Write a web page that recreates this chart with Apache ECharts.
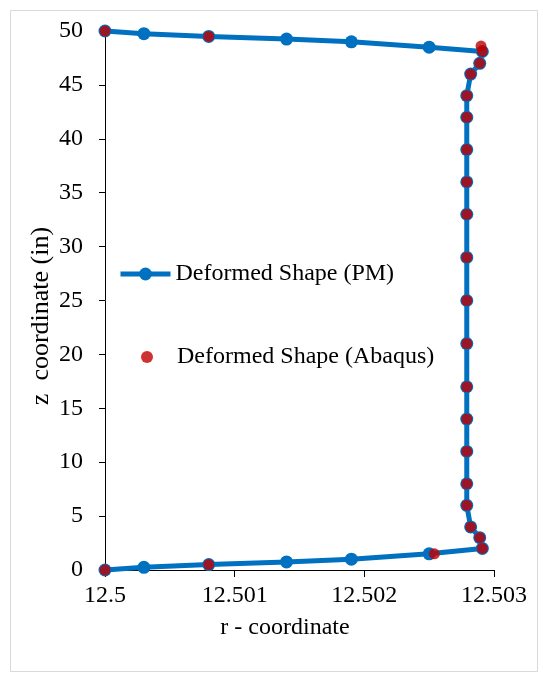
<!DOCTYPE html>
<html>
<head>
<meta charset="utf-8">
<script src="https://cdn.jsdelivr.net/npm/echarts@6/dist/echarts.min.js"></script>
<style>
html,body{margin:0;padding:0;background:#fff;}
#chart{width:543px;height:677px;}
</style>
</head>
<body>
<div id="chart"></div>
<script>
// PM (line) data
var pmR = [12.5, 12.5003, 12.5008, 12.5014, 12.5019, 12.5025, 12.50291, 12.50289, 12.50282, 12.50279, 12.50279, 12.50279, 12.50279, 12.50279, 12.50279, 12.50279, 12.50279, 12.50279, 12.50279, 12.50279, 12.50279, 12.50279, 12.50282, 12.50289, 12.50291, 12.5025, 12.5019, 12.5014, 12.5008, 12.5003, 12.5];
var pmZ = [0, 0.25, 0.5, 0.75, 1.0, 1.5, 2.0, 3, 4, 6, 8, 11, 14, 17, 21, 25, 29, 33, 36, 39, 42, 44, 46, 47, 48.1, 48.5, 49.0, 49.25, 49.5, 49.75, 50];
// Abaqus (scatter) data
var abR = [12.5, 12.5008, 12.50254, 12.50291, 12.50289, 12.50282, 12.50279, 12.50279, 12.50279, 12.50279, 12.50279, 12.50279, 12.50279, 12.50279, 12.50279, 12.50279, 12.50279, 12.50279, 12.50279, 12.50282, 12.50289, 12.50291, 12.5029, 12.5008, 12.5];
var abZ = [0, 0.5, 1.5, 2, 3, 4, 6, 8, 11, 14, 17, 21, 25, 29, 33, 36, 39, 42, 44, 46, 47, 48.1, 48.6, 49.5, 50];
// axis settings
var xMin = 12.5, xMax = 12.503, xStep = 0.001;
var yMin = 0, yMax = 50, yStep = 5;
var seriesNames = ['Deformed Shape (PM)', 'Deformed Shape (Abaqus)'];
var xTitle = 'r - coordinate';
var yTitle = 'z  coordinate (in)';

function zip(a, b) { return a.map(function (v, i) { return [v, b[i]]; }); }

var FONT = 'Liberation Serif';
var chart = echarts.init(document.getElementById('chart'), null, { renderer: 'canvas' });
chart.setOption({
  animation: false,
  backgroundColor: '#ffffff',
  textStyle: { fontFamily: FONT, color: '#000' },
  grid: { left: 105, right: 49, top: 31, bottom: 107, containLabel: false },
  xAxis: {
    type: 'value', min: xMin, max: xMax, interval: xStep,
    axisLine: { show: true, onZero: false, lineStyle: { color: '#000', width: 1 } },
    axisTick: { show: true, inside: false, length: 7, lineStyle: { color: '#000' } },
    splitLine: { show: false },
    axisLabel: { fontFamily: FONT, fontSize: 24, color: '#000', margin: 14 }
  },
  yAxis: {
    type: 'value', min: yMin, max: yMax, interval: yStep,
    axisLine: { show: true, onZero: false, lineStyle: { color: '#000', width: 1 } },
    axisTick: { show: true, inside: false, length: 6, lineStyle: { color: '#000' } },
    splitLine: { show: false },
    axisLabel: { fontFamily: FONT, fontSize: 24, color: '#000', margin: 22 }
  },
  legend: [
    {
      orient: 'vertical', left: 118, top: 262, padding: 0,
      itemWidth: 50, itemHeight: 16,
      lineStyle: { width: 5 },
      textStyle: { fontFamily: FONT, fontSize: 24, color: '#000' },
      data: [{ name: seriesNames[0] }]
    },
    {
      orient: 'vertical', left: 141, top: 345, padding: 0,
      itemWidth: 50, itemHeight: 12,
      textStyle: { fontFamily: FONT, fontSize: 24, color: '#000' },
      data: [{ name: seriesNames[1], icon: 'circle' }]
    }
  ],
  series: [
    {
      name: seriesNames[0], type: 'line', data: zip(pmR, pmZ),
      symbol: 'circle', symbolSize: 13, showSymbol: true,
      lineStyle: { color: '#0070C0', width: 5 },
      itemStyle: { color: '#0070C0' },
      z: 2
    },
    {
      name: seriesNames[1], type: 'scatter', data: zip(abR, abZ),
      symbol: 'circle', symbolSize: 11,
      itemStyle: { color: '#C00000' },
      z: 3
    }
  ],
  graphic: [
    { type: 'rect', left: 8, top: 8, shape: { width: 527, height: 661 }, style: { fill: 'none', stroke: '#d9d9d9', lineWidth: 1 }, silent: true, z: -1 },
    { type: 'text', x: 285, y: 628, style: { text: xTitle, font: '24px "Liberation Serif"', fill: '#000', align: 'center', verticalAlign: 'middle' } },
    { type: 'text', x: 41, y: 316, rotation: Math.PI / 2, style: { text: yTitle, font: '26px "Liberation Serif"', fill: '#000', align: 'center', verticalAlign: 'middle' } }
  ]
});
</script>
</body>
</html>
